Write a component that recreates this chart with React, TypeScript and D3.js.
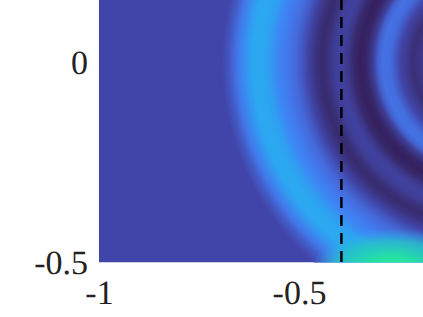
import React from 'react'
import * as d3 from 'd3'

const WIDTH = 423
const HEIGHT = 317

// radial profile of the rings, read along y = 0
const ringRadii = [
  0.16, 0.1675, 0.185, 0.2025, 0.2175, 0.23, 0.2425, 0.26, 0.2725, 0.285, 0.3025, 0.3175, 0.335, 0.3475, 0.3625,
  0.38, 0.3975, 0.4125, 0.43, 0.4475, 0.4625, 0.48, 0.505, 0.525, 0.5425, 0.5625, 0.585, 0.6, 0.625, 0.6425, 0.6625
]
const ringLevels = [
  0.14, 0.13, 0.09, 0.15, 0.2, 0.26, 0.32, 0.34, 0.28, 0.16, 0.03, 0, 0.06, 0.14, 0.18,
  0.17, 0.11, 0.06, 0.12, 0.19, 0.25, 0.31, 0.38, 0.42, 0.47, 0.5, 0.5, 0.46, 0.36, 0.26, 0.2
]
const ringCenter = [-0.03, 0]

// hot spot sitting on the lower edge
const spotCenter = [-0.265, -0.525]
const spotRadii = [0.21, 0.11]
const spotOffsets = [0, 0.35, 0.7, 1]
const spotLevels = [0.8, 0.72, 0.62, 0.5]
const spotOpacity = [1, 1, 0.75, 0]

const colorLevels = [0, 0.1, 0.2, 0.3, 0.4, 0.5, 0.7, 0.8]
const colorValues = ['#35205f', '#3a3078', '#4145a9', '#4568d8', '#4080f5', '#2ba8f0', '#20dca8', '#35f090']

const xTicks = [-1, -0.5]
const yTicks = [0, -0.5]
const dashedX = -0.394

const x = d3.scaleLinear().domain([-1, -0.19]).range([99, 423])
const y = d3.scaleLinear().domain([0, -0.5]).range([62, 262])
const color = d3.scaleLinear<string>().domain(colorLevels).range(colorValues).interpolate(d3.interpolateRgb)

const fontFamily = '"Liberation Serif", serif'

export default function App() {
  const pxPerUnit = x(0) - x(-1)
  const outer = d3.max(ringRadii) as number
  const rOuter = outer * pxPerUnit

  return (
    <svg width={WIDTH} height={HEIGHT} style={{ position: 'absolute', left: 0, top: 0 }}>
      <defs>
        <radialGradient
          id="rings"
          gradientUnits="userSpaceOnUse"
          cx={x(ringCenter[0])}
          cy={y(ringCenter[1])}
          r={rOuter}
        >
          {ringRadii.map((r, i) => (
            <stop key={r} offset={r / outer} stopColor={color(ringLevels[i])} />
          ))}
        </radialGradient>
        <radialGradient id="spot">
          {spotOffsets.map((o, i) => (
            <stop key={o} offset={o} stopColor={color(spotLevels[i])} stopOpacity={spotOpacity[i]} />
          ))}
        </radialGradient>
        <clipPath id="plot">
          <rect x={x(-1)} y={0} width={WIDTH - x(-1)} height={y(-0.5) + 0.5} />
        </clipPath>
      </defs>

      <g clipPath="url(#plot)">
        <rect x={x(-1)} y={0} width={WIDTH - x(-1)} height={y(-0.5) + 0.5} fill={color(0.2)} />
        <circle cx={x(ringCenter[0])} cy={y(ringCenter[1])} r={rOuter} fill="url(#rings)" />
        <ellipse
          cx={x(spotCenter[0])}
          cy={y(spotCenter[1])}
          rx={spotRadii[0] * pxPerUnit}
          ry={spotRadii[1] * pxPerUnit}
          fill="url(#spot)"
        />
      </g>

      <line
        x1={x(dashedX)}
        x2={x(dashedX)}
        y1={-1}
        y2={y(-0.5)}
        stroke="#000"
        strokeWidth={2.5}
        strokeDasharray="11 7"
      />

      {yTicks.map(t => (
        <text
          key={t}
          x={88}
          y={y(t) + 12}
          textAnchor="end"
          fontFamily={fontFamily}
          fontSize={34}
          textRendering="geometricPrecision"
          fill="#222"
        >
          {t}
        </text>
      ))}
      {xTicks.map(t => (
        <text
          key={t}
          x={x(t) + 0.5}
          y={304}
          textAnchor="middle"
          fontFamily={fontFamily}
          fontSize={34}
          textRendering="geometricPrecision"
          fill="#222"
        >
          {t}
        </text>
      ))}
    </svg>
  )
}
